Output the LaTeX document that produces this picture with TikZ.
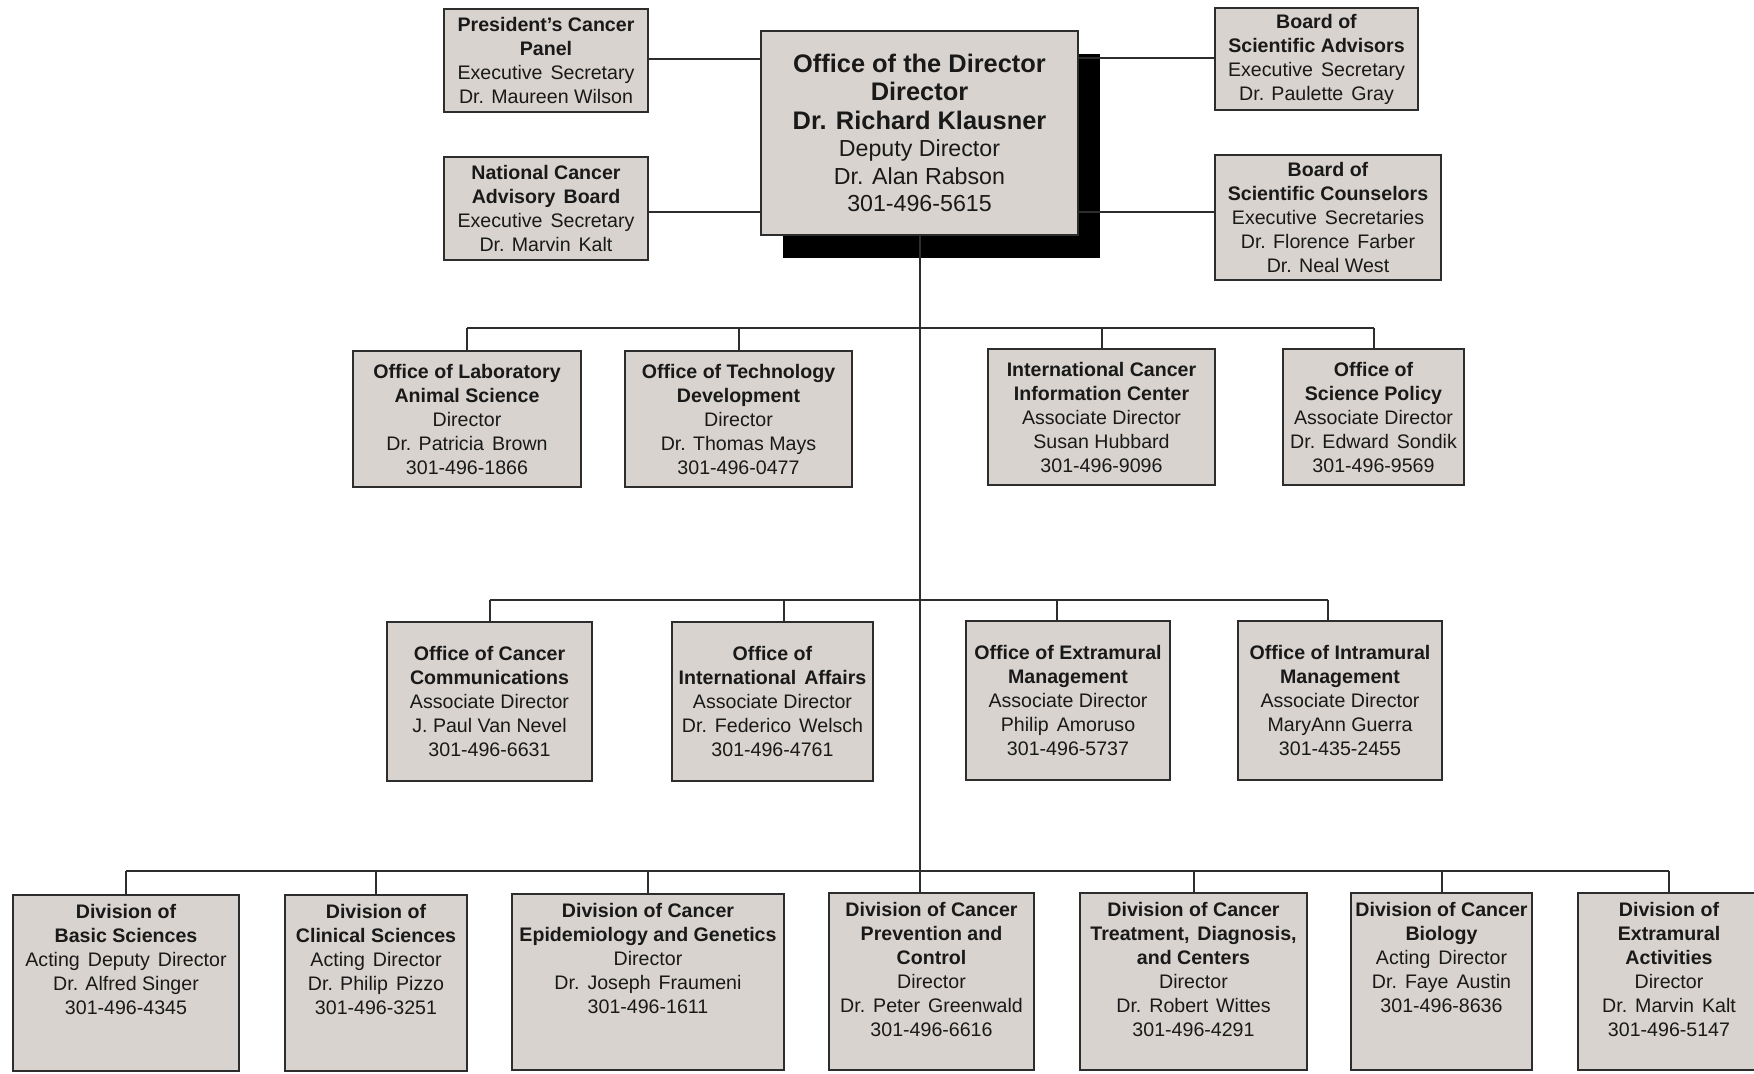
\documentclass[tikz,border=0pt]{standalone}
\usepackage{fontspec}
\setmainfont{Liberation Sans}
\usetikzlibrary{shadows}
\definecolor{boxfill}{RGB}{216,211,206}
\definecolor{boxline}{RGB}{45,45,45}
\definecolor{ink}{RGB}{25,25,25}
\newcommand{\bigb}{\fontsize{12.7}{15}\selectfont\bfseries}
\newcommand{\ws}{\hspace{4pt}}
\begin{document}
\begin{tikzpicture}[x=0.5pt,y=-0.5pt,
  unitbox/.style={draw=boxline, line width=1pt, fill=boxfill, inner sep=0pt, align=center, text=ink, font=\fontsize{9.8}{12}\selectfont},
  dirbox/.style={unitbox, font=\fontsize{11.6}{13.7}\selectfont,
     drop shadow={shadow xshift=11pt, shadow yshift=-11.5pt, fill=black, opacity=1}},
  divtext/.style={inner sep=0pt, align=center, text=ink, anchor=north, font=\fontsize{9.8}{12}\selectfont},
  conn/.style={draw=boxline, line width=1pt}]
\useasboundingbox (0,0) rectangle (1754,1073);
\clip (0,0) rectangle (1754,1073);
\fill[white] (0,0) rectangle (1754,1073);

% ---- top level ----
\node[dirbox, minimum width=158.5pt, minimum height=102pt] (dir) at (919.5,133)
  {{\bigb Office of the Director}\\[0.6pt]{\bigb Director}\\[0.6pt]{\bigb Dr. Richard Klausner}\\Deputy Director\\Dr. Alan Rabson\\301-496-5615};

\node[unitbox, minimum width=102pt, minimum height=51.5pt] (pcp) at (546,60.5)
  {\textbf{President's Cancer}\\\textbf{Panel}\\Executive\ws Secretary\\Dr. Maureen Wilson};
\node[unitbox, minimum width=102pt, minimum height=51.5pt] (ncab) at (546,208.5)
  {\textbf{National Cancer}\\\textbf{Advisory\ws Board}\\Executive\ws Secretary\\Dr. Marvin\ws Kalt};
\node[unitbox, minimum width=101.5pt, minimum height=51pt] (bsa) at (1316.5,59)
  {\textbf{Board of}\\\textbf{Scientific Advisors}\\Executive\ws Secretary\\Dr. Paulette\ws Gray};
\node[unitbox, minimum width=113pt, minimum height=62.5pt] (bsc) at (1328,217.5)
  {\textbf{Board of}\\\textbf{Scientific Counselors}\\Executive\ws Secretaries\\Dr. Florence\ws Farber\\Dr. Neal West};

% ---- second row ----
\node[unitbox, minimum width=114pt, minimum height=68pt] (las) at (467,419)
  {\textbf{Office of Laboratory}\\\textbf{Animal Science}\\Director\\Dr. Patricia\ws Brown\\301-496-1866};
\node[unitbox, minimum width=113.5pt, minimum height=68pt] (otd) at (738.5,419)
  {\textbf{Office of Technology}\\\textbf{Development}\\Director\\Dr. Thomas Mays\\301-496-0477};
\node[unitbox, minimum width=113.5pt, minimum height=68pt] (icic) at (1101.5,417)
  {\textbf{International Cancer}\\\textbf{Information Center}\\Associate Director\\Susan Hubbard\\301-496-9096};
\node[unitbox, minimum width=90.5pt, minimum height=68pt] (osp) at (1373.5,417)
  {\textbf{Office of}\\\textbf{Science Policy}\\Associate Director\\Dr. Edward\ws Sondik\\301-496-9569};

% ---- third row ----
\node[unitbox, minimum width=102.5pt, minimum height=79.5pt] (occ) at (489.5,701.5)
  {\textbf{Office of Cancer}\\\textbf{Communications}\\Associate Director\\J. Paul Van Nevel\\301-496-6631};
\node[unitbox, minimum width=100.5pt, minimum height=79.5pt] (oia) at (772.5,701.5)
  {\textbf{Office of}\\\textbf{International\ws Affairs}\\Associate Director\\Dr.\ws Federico\ws Welsch\\301-496-4761};
\node[unitbox, minimum width=102pt, minimum height=79.5pt] (oem) at (1068,700.5)
  {\textbf{Office of Extramural}\\\textbf{Management}\\Associate Director\\Philip\ws Amoruso\\301-496-5737};
\node[unitbox, minimum width=102pt, minimum height=79.5pt] (oim) at (1340,700.5)
  {\textbf{Office of Intramural}\\\textbf{Management}\\Associate Director\\MaryAnn Guerra\\301-435-2455};

% ---- fourth row ----
\node[unitbox, minimum width=113pt, minimum height=88pt, anchor=north] (b1) at (126,894) {};
\node[unitbox, minimum width=91pt, minimum height=88pt, anchor=north] (b2) at (376,894) {};
\node[unitbox, minimum width=136pt, minimum height=88pt, anchor=north] (b3) at (648,893) {};
\node[unitbox, minimum width=102.5pt, minimum height=88.5pt, anchor=north] (b4) at (931.5,892) {};
\node[unitbox, minimum width=113.5pt, minimum height=88.5pt, anchor=north] (b5) at (1193.5,892) {};
\node[unitbox, minimum width=90.5pt, minimum height=88.5pt, anchor=north] (b6) at (1441.5,892) {};
\node[unitbox, minimum width=91pt, minimum height=88.5pt, anchor=north] (b7) at (1669,892) {};

\node[divtext] (t1) at ([yshift=-5pt]b1.north)
  {\textbf{Division of}\\\textbf{Basic Sciences}\\Acting\ws Deputy\ws Director\\Dr. Alfred Singer\\301-496-4345};
\node[divtext] (t2) at ([yshift=-5pt]b2.north)
  {\textbf{Division of}\\\textbf{Clinical Sciences}\\Acting\ws Director\\Dr. Philip\ws Pizzo\\301-496-3251};
\node[divtext] (t3) at ([yshift=-5pt]b3.north)
  {\textbf{Division of Cancer}\\\textbf{Epidemiology and Genetics}\\Director\\Dr.\ws Joseph\ws Fraumeni\\301-496-1611};
\node[divtext] (t4) at ([yshift=-5pt]b4.north)
  {\textbf{Division of Cancer}\\\textbf{Prevention and}\\\textbf{Control}\\Director\\Dr.\ws Peter\ws Greenwald\\301-496-6616};
\node[divtext] (t5) at ([yshift=-5pt]b5.north)
  {\textbf{Division of Cancer}\\\textbf{Treatment,\ws Diagnosis,}\\\textbf{and Centers}\\Director\\Dr.\ws Robert\ws Wittes\\301-496-4291};
\node[divtext] (t6) at ([yshift=-5pt]b6.north)
  {\textbf{Division of Cancer}\\\textbf{Biology}\\Acting\ws Director\\Dr.\ws Faye\ws Austin\\301-496-8636};
\node[divtext] (t7) at ([yshift=-5pt]b7.north)
  {\textbf{Division of}\\\textbf{Extramural}\\\textbf{Activities}\\Director\\Dr.\ws Marvin\ws Kalt\\301-496-5147};

% ---- connectors ----
\coordinate (bus2) at (919,328);
\coordinate (bus3) at (919,600);
\coordinate (bus4) at (919,871);

\draw[conn] ([yshift=0.75pt]pcp.east) -- ([yshift=0.75pt]pcp.east -| dir.west);
\draw[conn] ([yshift=-1.75pt]ncab.east) -- ([yshift=-1.75pt]ncab.east -| dir.west);
\draw[conn] ([yshift=0.5pt]bsa.west) -- ([yshift=0.5pt]bsa.west -| dir.east);
\draw[conn] ([yshift=2.75pt]bsc.west) -- ([yshift=2.75pt]bsc.west -| dir.east);

\draw[conn] (dir.south) -- (dir.south |- b4.north);

\draw[conn] (bus2 -| las.north) -- (bus2 -| osp.north);
\foreach \n in {las,otd,icic,osp} \draw[conn] (bus2 -| \n.north) -- (\n.north);

\draw[conn] (bus3 -| occ.north) -- ([xshift=-6pt]bus3 -| oim.north);
\draw[conn] (bus3 -| occ.north) -- (occ.north);
\draw[conn] ([xshift=5.75pt]bus3 -| oia.north) -- ([xshift=5.75pt]oia.north);
\draw[conn] ([xshift=-5.5pt]bus3 -| oem.north) -- ([xshift=-5.5pt]oem.north);
\draw[conn] ([xshift=-6pt]bus3 -| oim.north) -- ([xshift=-6pt]oim.north);

\draw[conn] (bus4 -| b1.north) -- (bus4 -| b7.north);
\foreach \n in {b1,b2,b3,b5,b6,b7} \draw[conn] (bus4 -| \n.north) -- (\n.north);
\end{tikzpicture}
\end{document}
